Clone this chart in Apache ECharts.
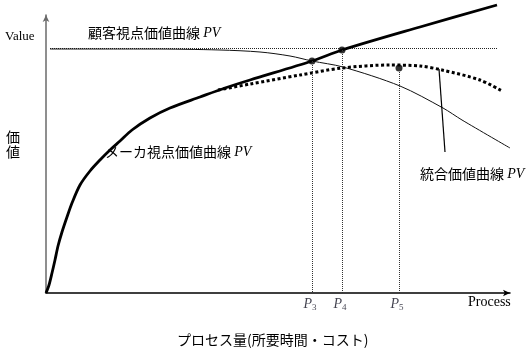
<!DOCTYPE html>
<html lang="ja">
<head>
<meta charset="UTF-8">
<script src="https://cdn.jsdelivr.net/npm/echarts@6/dist/echarts.min.js"></script>
<style>
  body { margin: 0; background: #fff; }
  #main { width: 530px; height: 351px; }
</style>
</head>
<body>
<div id="main"></div>
<script>
// curves, in plot units (x: process amount, y: value)
const makerCurve = [
  [0, 0], [3, 8], [6, 20], [9, 33], [12, 47], [16, 61], [21, 76], [26, 90],
  [34, 108], [44, 122], [54, 133], [64, 143], [74, 152], [86, 163], [104, 175],
  [124, 185], [154, 196], [179, 205], [204, 213], [266, 232], [296, 243],
  [374, 266], [451, 288]
]
const customerCurve = [
  [4, 244], [104, 244], [174, 243], [214, 241], [244, 237], [266, 232],
  [297, 226], [354, 207], [397, 185], [416, 173], [464, 145]
]
const integratedCurve = [
  [172, 203], [204, 209], [254, 218], [296, 225], [344, 228], [374, 227],
  [396, 223], [434, 213], [456, 202]
]
const refLevel = 244.5
const refRange = [4, 452]
const pointX = [266, 296, 353]
const pointY = [232, 243, 225]
const pointNames = ['3', '4', '5']
const leaderLine = [[393, 224], [399, 141]]

const jp = '"Noto Sans CJK JP", sans-serif'
const serif = '"Liberation Serif", "DejaVu Serif", serif'
const pvRich = {
  a: { fontFamily: jp, fontSize: 14, color: '#000' },
  b: { fontFamily: serif, fontStyle: 'italic', fontSize: 14, color: '#111122' }
}

var chart = echarts.init(document.getElementById('main'))

chart.setOption({
  animation: false,
  grid: { left: 46, right: 20, top: 15, bottom: 58 },
  xAxis: {
    type: 'value', min: 0, max: 464,
    axisLine: { show: true, symbol: ['none', 'arrow'], symbolSize: [5, 7],
      lineStyle: { color: '#000', width: 1.5 } },
    axisTick: { show: false }, axisLabel: { show: false }, splitLine: { show: false }
  },
  yAxis: {
    type: 'value', min: 0, max: 278,
    axisLine: { show: true, symbol: ['none', 'arrow'], symbolSize: [5, 7],
      lineStyle: { color: '#6a6a6a', width: 1.5 } },
    axisTick: { show: false }, axisLabel: { show: false }, splitLine: { show: false }
  },
  series: [
    {
      type: 'line', data: refRange.map(x => [x, refLevel]), showSymbol: false, clip: false,
      lineStyle: { color: '#222', width: 1, type: [1, 1] }
    },
    {
      type: 'line', data: customerCurve, smooth: 0.3, showSymbol: false, clip: false,
      lineStyle: { color: '#111', width: 1 }
    },
    {
      type: 'line', data: integratedCurve, smooth: 0.3, showSymbol: false, clip: false,
      lineStyle: { color: '#000', width: 3, type: [3, 2.5], cap: 'butt' }
    },
    {
      type: 'line', data: makerCurve, smooth: 0.3, showSymbol: false, clip: false,
      lineStyle: { color: '#000', width: 2.8 }
    },
    {
      type: 'line', data: leaderLine, showSymbol: false, clip: false,
      lineStyle: { color: '#000', width: 1.2 }
    },
    {
      type: 'scatter', symbolSize: 7, itemStyle: { color: '#000' },
      data: pointX.map((x, i) => [x, pointY[i]]),
      markLine: {
        silent: true, symbol: 'none', label: { show: false },
        lineStyle: { color: '#333', width: 1, type: [1, 1] },
        data: pointX.map((x, i) => [{ coord: [x, pointY[i]] }, { coord: [x, 0] }])
      }
    },
    {
      type: 'scatter', symbolSize: 0, silent: true,
      data: pointX.map((x, i) => ({ value: [x, 0], name: pointNames[i] })),
      label: {
        show: true, position: 'bottom', distance: 4, offset: [-2, 0],
        formatter: p => '{p|P}{s|' + p.name + '}',
        rich: {
          p: { fontFamily: serif, fontStyle: 'italic', fontSize: 14, color: '#111122' },
          s: { fontFamily: serif, fontSize: 9, color: '#111122', padding: [6, 0, 0, 0] }
        }
      }
    }
  ],
  graphic: [
    { type: 'text', left: 5, top: 30, style: { text: 'Value', font: '13px ' + serif, fill: '#000' } },
    { type: 'text', left: 88, top: 26, style: { text: '{a|顧客視点価値曲線 }{b|PV}', rich: pvRich } },
    { type: 'text', left: 105, top: 145, style: { text: '{a|メーカ視点価値曲線 }{b|PV}', rich: pvRich } },
    { type: 'text', left: 420, top: 167, style: { text: '{a|統合価値曲線 }{b|PV}', rich: pvRich } },
    { type: 'text', left: 6, top: 129, style: { text: '価\n値', font: '14px ' + jp, lineHeight: 15, fill: '#000' } },
    { type: 'text', left: 468, top: 295, style: { text: 'Process', font: '14px ' + serif, fill: '#000' } },
    { type: 'text', left: 177, top: 333, style: { text: 'プロセス量(所要時間・コスト)', font: '14px ' + jp, fill: '#000' } }
  ]
})
</script>
</body>
</html>
